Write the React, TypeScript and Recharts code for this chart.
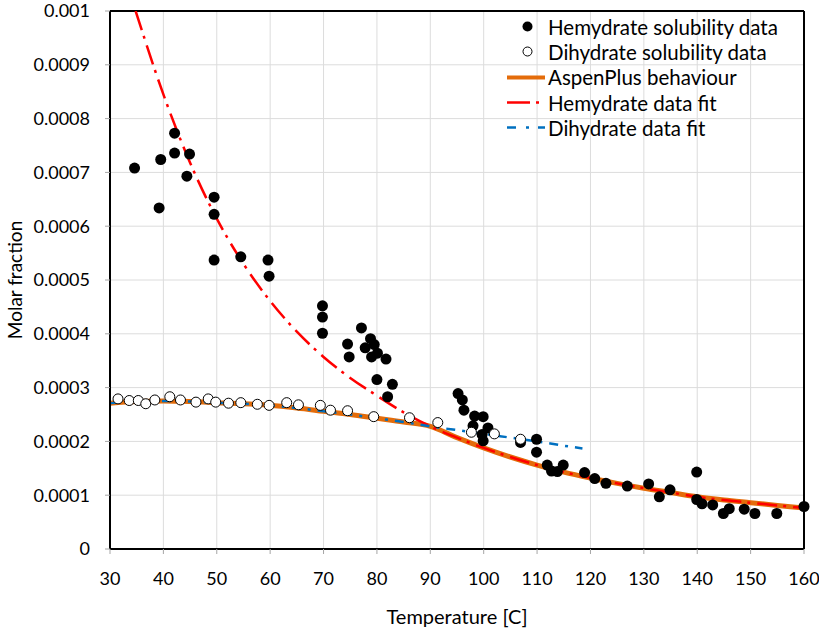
import {
  ComposedChart, Scatter, Line, XAxis, YAxis, CartesianGrid, Legend, ReferenceLine,
} from 'recharts'

// ── Data ─────────────────────────────────────────────────────────────────────
// [temperature °C, molar fraction]

const hemydratePoints: [number, number][] = [
  [34.6, 0.000708], [39.5, 0.000724], [39.2, 0.000634], [42.1, 0.000773], [42.1, 0.000736],
  [44.9, 0.000734], [44.4, 0.000693], [49.5, 0.000654], [49.5, 0.000622], [49.5, 0.000537],
  [54.5, 0.000543], [59.6, 0.000537], [59.8, 0.000507], [69.8, 0.000452], [69.8, 0.000431],
  [69.8, 0.000401], [74.5, 0.000381], [74.8, 0.000357], [77.1, 0.000411], [78.8, 0.000391],
  [77.8, 0.000374], [79.5, 0.00038], [79.0, 0.000357], [80.1, 0.000364], [81.7, 0.000353],
  [80.0, 0.000315], [82.9, 0.000306], [82.0, 0.000283], [95.2, 0.000289], [96.0, 0.000277],
  [96.3, 0.000258], [98.3, 0.000247], [99.9, 0.000246], [98.0, 0.000229], [100.8, 0.000225],
  [99.7, 0.000213], [99.9, 0.000201], [106.9, 0.000198], [109.9, 0.000204], [109.9, 0.00018],
  [111.9, 0.000156], [112.7, 0.000145], [113.8, 0.000144], [114.9, 0.000156], [118.9, 0.000142],
  [120.8, 0.000131], [122.9, 0.000122], [126.9, 0.000117], [130.9, 0.000121], [132.9, 0.000097],
  [134.9, 0.00011], [139.9, 0.000143], [139.9, 0.000092], [140.9, 0.000084], [142.9, 0.000082],
  [144.9, 0.000066], [146.0, 0.000075], [148.8, 0.000074], [150.8, 0.000066], [154.9, 0.000066],
  [160.0, 0.000079],
]

const dihydratePoints: [number, number][] = [
  [31.5, 0.000279], [33.6, 0.000276], [35.3, 0.000276], [36.7, 0.00027], [38.4, 0.000277],
  [41.2, 0.000283], [43.2, 0.000277], [46.1, 0.000273], [48.4, 0.000279], [49.8, 0.000273],
  [52.2, 0.000271], [54.5, 0.000272], [57.6, 0.000269], [59.8, 0.000267], [63.1, 0.000272],
  [65.3, 0.000268], [69.4, 0.000267], [71.3, 0.000258], [74.5, 0.000257], [79.4, 0.000246],
  [86.1, 0.000244], [91.4, 0.000235], [97.7, 0.000217], [102.0, 0.000214], [106.9, 0.000204],
]

const aspenCurve: [number, number][] = [
  [30, 0.000271], [35, 0.000274], [40, 0.000275], [45, 0.000274], [50, 0.000272], [55, 0.00027],
  [60, 0.000267], [65, 0.000262], [70, 0.000256], [75, 0.00025], [80, 0.000243], [85, 0.000236],
  [90, 0.000228], [95, 0.000207], [100, 0.000188], [105, 0.000171], [110, 0.000156], [115, 0.000143],
  [120, 0.000132], [125, 0.000122], [130, 0.000113], [135, 0.000105], [140, 0.000097], [145, 0.000091],
  [150, 0.000086], [155, 0.000081], [160, 0.000076],
]

const hemydrateFit: [number, number][] = [
  [34.8, 0.001], [40, 0.000845], [45, 0.000718], [50, 0.000614], [55, 0.00053], [60, 0.000461],
  [65, 0.000404], [70, 0.000357], [75, 0.000318], [80, 0.000285], [85, 0.000254], [90, 0.000228],
  [95, 0.000207], [100, 0.000188], [105, 0.000171], [110, 0.000156], [115, 0.000143], [120, 0.000132],
  [125, 0.000122], [130, 0.000113], [135, 0.000105], [140, 0.000097], [145, 0.000091], [150, 0.000086],
  [155, 0.000081], [160, 0.000076],
]

const dihydrateFit: [number, number][] = [
  [30, 0.000271], [35, 0.000274], [40, 0.000275], [45, 0.000274], [50, 0.000272], [55, 0.00027],
  [60, 0.000267], [65, 0.000262], [70, 0.000256], [75, 0.00025], [80, 0.000243], [85, 0.000236],
  [90, 0.000228], [95, 0.000221], [100, 0.000214], [105, 0.000207], [110, 0.0002], [115, 0.000192],
  [118.5, 0.000187],
]

const xTicks = [30, 40, 50, 60, 70, 80, 90, 100, 110, 120, 130, 140, 150, 160]
const yTicks = [0, 0.0001, 0.0002, 0.0003, 0.0004, 0.0005, 0.0006, 0.0007, 0.0008, 0.0009, 0.001]

const legendLabels = [
  'Hemydrate solubility data',
  'Dihydrate solubility data',
  'AspenPlus behaviour',
  'Hemydrate data fit',
  'Dihydrate data fit',
]

// ── Styles ───────────────────────────────────────────────────────────────────

const FONT = 'Lato, "Open Sans", sans-serif'
const ORANGE = '#E46C0A'
const RED = '#FF0000'
const BLUE = '#0070C0'
const RED_DASH = '20 6 3 7'
const BLUE_DASH = '9 7 3 7'

const TICK = { fontSize: 18, fill: '#000', fontFamily: FONT }
const W = 819
const H = 630

const toXY = (rows: [number, number][]) => rows.map(([t, y]) => ({ t, y }))

const FilledDot = (p: any) => <circle cx={p.cx} cy={p.cy} r={5.5} fill="#000" />
const OpenDot = (p: any) => <circle cx={p.cx} cy={p.cy} r={5} fill="#fff" stroke="#000" strokeWidth={1} />

function LegendIcon({ i }: { i: number }) {
  switch (i) {
    case 0: return <circle cx={22.5} cy={12.5} r={5} fill="#000" />
    case 1: return <circle cx={22.5} cy={12.5} r={4.5} fill="#fff" stroke="#000" strokeWidth={1} />
    case 2: return <line x1={2} x2={40} y1={12.5} y2={12.5} stroke={ORANGE} strokeWidth={4} />
    case 3: return <line x1={2} x2={40} y1={12.5} y2={12.5} stroke={RED} strokeWidth={2.5} strokeDasharray="23 6 3 9" />
    default: return <line x1={2} x2={40} y1={12.5} y2={12.5} stroke={BLUE} strokeWidth={2.5} strokeDasharray="9 10 3 9 9" />
  }
}

function LegendBox() {
  return (
    <div style={{ fontFamily: FONT, fontSize: 20.5, color: '#000' }}>
      {legendLabels.map((label, i) => (
        <div key={label} style={{ display: 'flex', alignItems: 'center', height: 25.3 }}>
          <svg width={42} height={25} style={{ flex: 'none' }}><LegendIcon i={i} /></svg>
          <span style={{ marginLeft: 1, whiteSpace: 'nowrap' }}>{label}</span>
        </div>
      ))}
    </div>
  )
}

export default function App() {
  return (
    <div style={{ position: 'absolute', left: 0, top: 0, width: W, height: H, background: '#fff' }}>
      <ComposedChart width={W} height={H} margin={{ top: 11, right: 15, left: 0, bottom: 0 }}>
        <CartesianGrid stroke="#dcdcdc" strokeWidth={1} />
        <XAxis
          type="number" dataKey="t" domain={[30, 160]} ticks={xTicks} height={81}
          tick={TICK} tickSize={5} tickMargin={18}
          axisLine={{ stroke: '#000', strokeWidth: 2 }} tickLine={{ stroke: '#a6a6a6' }}
          label={{ value: 'Temperature [C]', position: 'insideBottom', offset: 6, fontSize: 20, fontFamily: FONT, fill: '#000' }}
        />
        <YAxis
          type="number" dataKey="y" domain={[0, 0.001]} ticks={yTicks} width={110} allowDataOverflow
          tick={TICK} tickSize={5} tickMargin={15}
          tickFormatter={(v: number) => (v === 0 ? '0' : String(+v.toFixed(4)))}
          axisLine={{ stroke: '#000', strokeWidth: 2 }} tickLine={{ stroke: '#a6a6a6' }}
          label={{ value: 'Molar fraction', angle: -90, position: 'insideLeft', offset: 15, fontSize: 19, fontFamily: FONT, fill: '#000', style: { textAnchor: 'middle' } }}
        />
        <ReferenceLine y={0.001} stroke="#000" strokeWidth={2} />
        <ReferenceLine x={160} stroke="#000" strokeWidth={2} />
        <Legend
          layout="vertical" align="center" verticalAlign="middle"
          content={() => <LegendBox />}
          wrapperStyle={{ left: 505, top: 14, width: 300 }}
        />
        <Scatter name="Hemydrate solubility data" data={toXY(hemydratePoints)} dataKey="y" shape={FilledDot} isAnimationActive={false} />
        <Scatter name="Dihydrate solubility data" data={toXY(dihydratePoints)} dataKey="y" shape={OpenDot} isAnimationActive={false} />
        <Line name="AspenPlus behaviour" data={toXY(aspenCurve)} dataKey="y" type="monotone" stroke={ORANGE} strokeWidth={5} dot={false} activeDot={false} isAnimationActive={false} />
        <Line name="Hemydrate data fit" data={toXY(hemydrateFit)} dataKey="y" type="monotone" stroke={RED} strokeWidth={2.5} strokeDasharray={RED_DASH} dot={false} activeDot={false} isAnimationActive={false} />
        <Line name="Dihydrate data fit" data={toXY(dihydrateFit)} dataKey="y" type="monotone" stroke={BLUE} strokeWidth={2.5} strokeDasharray={BLUE_DASH} dot={false} activeDot={false} isAnimationActive={false} />
      </ComposedChart>
    </div>
  )
}
